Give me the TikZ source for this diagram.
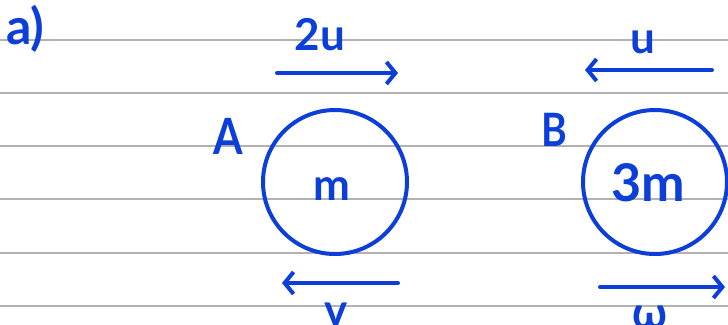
\documentclass[tikz,border=0pt]{standalone}
\usepackage{fontspec}
\setmainfont{Lato}
\usetikzlibrary{arrows.meta}
\definecolor{ink}{RGB}{12,62,218}
\definecolor{rule}{RGB}{178,178,178}
\tikzset{
  hand/.style={text=ink, font=\fontsize{44}{46}\selectfont\bfseries, inner sep=0pt},
  big/.style={hand, font=\fontsize{52}{54}\selectfont\bfseries},
  capletter/.style={hand, xscale=0.85},
  ball/.style={circle, draw=ink, line width=4pt, minimum size=144pt, inner sep=0pt},
  vel/.style={draw=ink, line width=4pt, line cap=round, -{Straight Barb[length=9pt,width=22pt,line width=4pt]}},
  ruled/.style={draw=rule, line width=1.5pt}
}
\begin{document}
\begin{tikzpicture}[x=1pt,y=-1pt]
\useasboundingbox (0,0) rectangle (728,324);
\clip (0,0) rectangle (728,324);
\foreach \yy in {40,93,146,199,253,306} \draw[ruled] (0,\yy) -- (728,\yy);
\node[hand, font=\fontsize{50}{52}\selectfont\bfseries, anchor=base west] (lbl) at (6,44) {a)};
% ball A
\node[ball] (A) at (335,182) {};
\node[hand] (mA) at (332,189) {m};
\node[capletter, font=\fontsize{50}{52}\selectfont\bfseries] (nA) at (228,136) {A};
\coordinate (a1) at (277,73);
\coordinate (a2) at (398,73);
\draw[vel] (a1) -- (a2);
\node[hand] (uA) at (320,35) {2u};
\coordinate (a3) at (398,283);
\coordinate (a4) at (282,283);
\draw[vel] (a3) -- (a4);
\node[hand] (vA) at (336,314) {v};
% ball B
\node[ball] (B) at (655,182) {};
\node[big] (mB) at (648,183) {3m};
\node[capletter, font=\fontsize{46}{48}\selectfont\bfseries] (nB) at (554,130) {B};
\coordinate (b1) at (712,70);
\coordinate (b2) at (585,70);
\draw[vel] (b1) -- (b2);
\node[hand] (uB) at (643,42) {u};
\coordinate (b3) at (600,287);
\coordinate (b4) at (725,287);
\draw[vel] (b3) -- (b4);
\node[hand] (wB) at (650,317) {ω};
\end{tikzpicture}
\end{document}
